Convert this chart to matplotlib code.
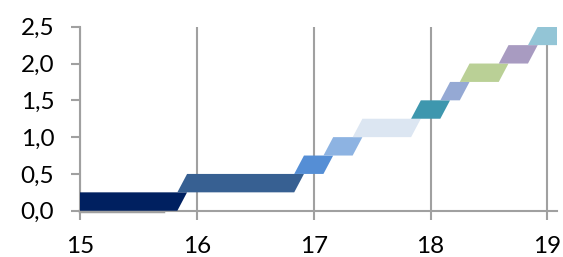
import matplotlib
matplotlib.use("Agg")
import matplotlib.pyplot as plt
import numpy as np

# step boundaries (age in years) and level height
edges = [15 - 1/12, 15 + 10/12, 16 + 10/12, 17 + 1/12, 17 + 4/12, 17 + 10/12,
         18 + 1/12, 18 + 3/12, 18 + 7/12, 18 + 10/12, 19.25]
step = 0.25
slant = 1/12
colors = ["#002060", "#376092", "#558ed5", "#8db3e2", "#dce6f2",
          "#3e97ae", "#95a9d4", "#bad096", "#a89bc1", "#93c5d6"]

xticks = [15, 16, 17, 18, 19]
yticks = [0.0, 0.5, 1.0, 1.5, 2.0, 2.5]
ylabels = ["0,0", "0,5", "1,0", "1,5", "2,0", "2,5"]

plt.rcParams['font.family'] = ['Lato', 'DejaVu Sans']

fig = plt.figure(figsize=(5.63, 2.57), dpi=100)
ax = fig.add_axes([0.142, 0.18, 0.847, 0.716])

for k, c in enumerate(colors):
    a, b = edges[k], edges[k + 1]
    y0, y1 = k * step, (k + 1) * step
    ax.fill([a, b, b + slant, a + slant], [y0, y0, y1, y1], color=c,
            lw=0, zorder=3)

ax.plot([15, 15.71], [-0.008, -0.008], color="#a0a0a0", lw=2.5, zorder=2,
        clip_on=False)

ax.set_xlim(15, 19.08)
ax.set_ylim(0, 2.5)
ax.set_xticks(xticks)
ax.set_xticklabels([str(t) for t in xticks])
ax.set_yticks(yticks)
ax.set_yticklabels(ylabels)
ax.xaxis.grid(True, color="#a0a0a0", lw=1.5, zorder=1)
ax.set_axisbelow(True)

for s in ["top", "right"]:
    ax.spines[s].set_visible(False)
for s in ["left", "bottom"]:
    ax.spines[s].set_color("#a0a0a0")
    ax.spines[s].set_linewidth(1.5)
ax.tick_params(axis="both", colors="#a0a0a0", width=1.5, length=6.5,
               labelcolor="black", labelsize=17.5)
ax.tick_params(axis="x", pad=11.5)
ax.tick_params(axis="y", pad=12)

fig.savefig("out.png", dpi=100)
